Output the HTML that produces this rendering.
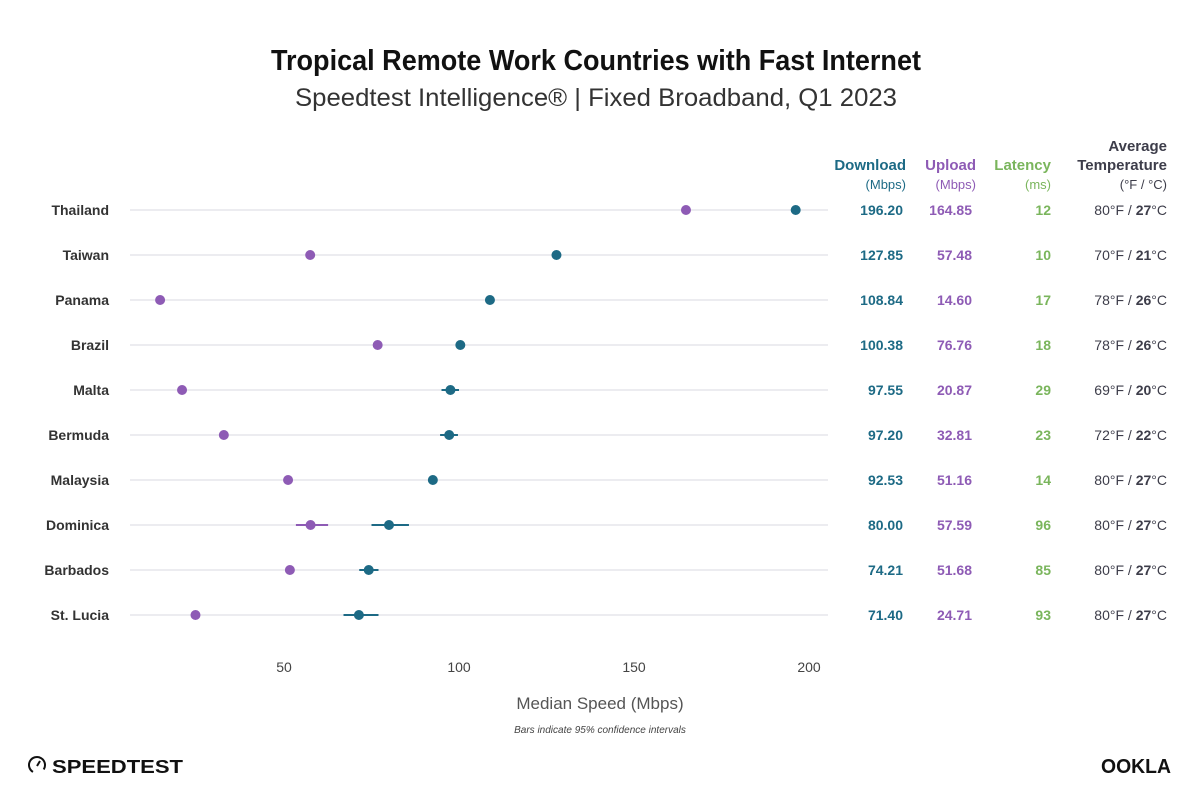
<!DOCTYPE html>
<html><head><meta charset="utf-8"><style>
body{margin:0;background:#fff}
svg{display:block;font-family:"Liberation Sans",sans-serif}
</style></head><body>
<svg width="1201" height="810" viewBox="0 0 1201 810">
<text x="596" y="70" text-anchor="middle" font-size="29" font-weight="bold" fill="#111" textLength="650" lengthAdjust="spacingAndGlyphs">Tropical Remote Work Countries with Fast Internet</text>
<text x="596" y="106" text-anchor="middle" font-size="25" fill="#333" textLength="602" lengthAdjust="spacingAndGlyphs">Speedtest Intelligence® | Fixed Broadband, Q1 2023</text>
<g font-size="15" font-weight="bold" text-anchor="end">
<text x="906" y="170" fill="#1d6a85">Download</text>
<text x="976" y="170" fill="#8e5bb5">Upload</text>
<text x="1051" y="170" fill="#7ab55c">Latency</text>
<text x="1167" y="151" fill="#3d3d4a">Average</text>
<text x="1167" y="170" fill="#3d3d4a">Temperature</text>
</g>
<g font-size="13" text-anchor="end">
<text x="906" y="189" fill="#1d6a85">(Mbps)</text>
<text x="976" y="189" fill="#8e5bb5">(Mbps)</text>
<text x="1051" y="189" fill="#7ab55c">(ms)</text>
<text x="1167" y="189" fill="#3d3d4a">(°F / °C)</text>
</g>
<g id="rows"></g>
<g font-size="14" fill="#444" text-anchor="middle">
<text x="284" y="672">50</text><text x="459" y="672">100</text><text x="634" y="672">150</text><text x="809" y="672">200</text>
</g>
<text x="600" y="709" text-anchor="middle" font-size="17" fill="#555">Median Speed (Mbps)</text>
<text x="600" y="733" text-anchor="middle" font-size="10" font-style="italic" fill="#444">Bars indicate 95% confidence intervals</text>
<g transform="translate(28,756)">
<circle cx="9" cy="9" r="8" fill="none" stroke="#111" stroke-width="2" stroke-dasharray="38 12" transform="rotate(120 9 9)"/>
<line x1="9" y1="10" x2="12" y2="5" stroke="#111" stroke-width="2"/>
<text x="24" y="17" font-size="18" font-weight="bold" fill="#111" textLength="131" lengthAdjust="spacingAndGlyphs">SPEEDTEST</text>
</g>
<text x="1101" y="773" font-size="20" font-weight="bold" fill="#111" textLength="70" lengthAdjust="spacingAndGlyphs">OOKLA</text>
</svg>
<script>
const d=[["Thailand",196.20,164.85,12,80,27],["Taiwan",127.85,57.48,10,70,21],["Panama",108.84,14.60,17,78,26],["Brazil",100.38,76.76,18,78,26],["Malta",97.55,20.87,29,69,20,[95,100]],["Bermuda",97.20,32.81,23,72,22,[94.6,99.7],[31.5,34]],["Malaysia",92.53,51.16,14,80,27],["Dominica",80.00,57.59,96,80,27,[75,85.7],[53.4,62.6]],["Barbados",74.21,51.68,85,80,27,[71.5,77]],["St. Lucia",71.40,24.71,93,80,27,[67,77]]];
const X=v=>284+(v-50)*3.5;let s="";
d.forEach((r,i)=>{const y=210+i*45;
s+=`<line x1="130" x2="828" y1="${y}" y2="${y}" stroke="#ececf0" stroke-width="2"/>`;
s+=`<text x="109" y="${y+5}" text-anchor="end" font-size="14" font-weight="bold" fill="#333">${r[0]}</text>`;
if(r[6])s+=`<line x1="${X(r[6][0])}" x2="${X(r[6][1])}" y1="${y}" y2="${y}" stroke="#1d6a85" stroke-width="2"/>`;
if(r[7])s+=`<line x1="${X(r[7][0])}" x2="${X(r[7][1])}" y1="${y}" y2="${y}" stroke="#8e5bb5" stroke-width="2"/>`;
s+=`<circle cx="${X(r[2])}" cy="${y}" r="5" fill="#8e5bb5"/><circle cx="${X(r[1])}" cy="${y}" r="5" fill="#1d6a85"/>`;
s+=`<g font-size="14" font-weight="bold" text-anchor="end"><text x="903" y="${y+5}" fill="#1d6a85">${r[1].toFixed(2)}</text><text x="972" y="${y+5}" fill="#8e5bb5">${r[2].toFixed(2)}</text><text x="1051" y="${y+5}" fill="#7ab55c">${r[3]}</text></g>`;
s+=`<text x="1167" y="${y+5}" text-anchor="end" font-size="14" fill="#3d3d4a">${r[4]}°F / <tspan font-weight="bold">${r[5]}</tspan>°C</text>`;});
document.getElementById("rows").innerHTML=s;
</script>
</body></html>
